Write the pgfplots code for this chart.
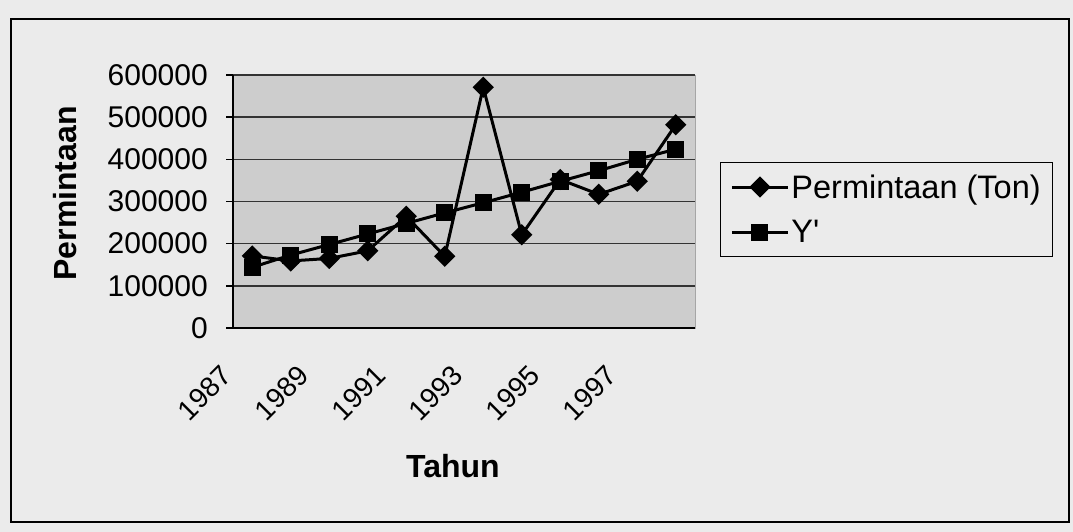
\documentclass[border=0pt]{standalone}
\usepackage{fontspec}
\setmainfont{Liberation Sans}
\usepackage{pgfplots}
\pgfplotsset{compat=1.18}
\definecolor{bg}{HTML}{EBEBEB}
\definecolor{plotbg}{HTML}{CDCDCD}
\definecolor{gridc}{HTML}{333333}
\begin{document}
\begin{tikzpicture}[x=1pt,y=1pt]
\useasboundingbox (0,0) rectangle (1073,532);
\fill[bg] (0,0) rectangle (1073,532);
\draw[black, line width=1.5pt] (11,10) rectangle (1069,513);
\begin{axis}[
  at={(233pt,204pt)}, anchor=south west,
  scale only axis, width=462pt, height=253pt,
  xmin=-0.5, xmax=11.5, ymin=0, ymax=600000,
  axis x line=bottom, axis y line=left,
  axis line style={-, line width=1.5pt, black},
  axis background/.style={fill=plotbg, draw=gray!70, line width=0.8pt},
  xtick={0,2,4,6,8,10},
  xticklabels={1987,1989,1991,1993,1995,1997},
  minor xtick={-0.5,0.5,...,11.5},
  xtick style={draw=none},
  minor x tick style={black, line width=1.5pt},
  ytick={0,100000,200000,300000,400000,500000,600000},
  y tick style={black, line width=1.5pt},
  tick align=outside, major tick length=7pt, minor tick length=7pt,
  ymajorgrids, grid style={gridc, line width=1.5pt},
  scaled y ticks=false,
  tick label style={font=\fontsize{30}{36}\selectfont},
  yticklabel style={inner sep=0pt, xshift=-18pt},
  xticklabel style={font=\fontsize{28}{34}\selectfont, xshift=-25pt, yshift=-36pt, rotate=45, anchor=east, inner sep=0pt},
  xlabel={Tahun},
  ylabel={Permintaan},
  label style={font=\fontsize{32}{38}\selectfont\bfseries},
  xlabel style={at={(axis description cs:0.476,-0.589)}, anchor=base},
  ylabel style={at={(axis description cs:-0.3636,0.532)}, anchor=center},
  legend style={at={(axis description cs:1.054,0.656)}, anchor=north west,
    draw=black, line width=1pt, fill=bg, font=\fontsize{32.5}{38}\selectfont,
    inner xsep=10pt, inner ysep=10pt, row sep=17pt},
  legend cell align=left,
  legend image code/.code={\draw[mark repeat=2,mark phase=2,#1] plot coordinates {(0pt,0pt) (28pt,0pt) (56pt,0pt)};},
  /pgf/number format/.cd, fixed, 1000 sep={}, assume math mode=true, /pgfplots/.cd,
]
\addplot[black, line width=3pt, mark=square*, mark size=6pt, mark options={rotate=45, solid}]
coordinates {(0,171000) (1,159000) (2,165000) (3,183000) (4,265000) (5,170000) (6,571000) (7,221000) (8,352000) (9,317000) (10,348000) (11,482000)};
\addlegendentry{Permintaan (Ton)}
\addplot[black, line width=3pt, mark=square*, mark size=7pt, mark options={solid}]
coordinates {(0,144000) (1,173000) (2,198000) (3,223000) (4,248000) (5,273000) (6,297000) (7,322000) (8,348000) (9,373000) (10,400000) (11,424000)};
\addlegendentry{Y\XeTeXglyph\XeTeXcharglyph"27\relax}
\end{axis}
\end{tikzpicture}
\end{document}
